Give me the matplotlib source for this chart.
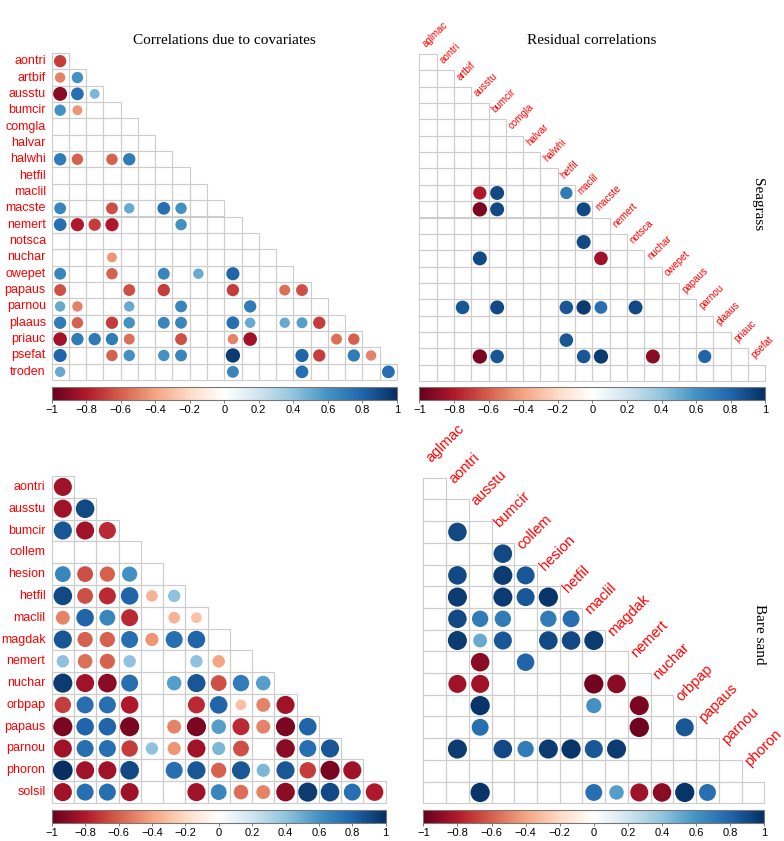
import numpy as np
import matplotlib
matplotlib.use("Agg")
import matplotlib.pyplot as plt
from matplotlib.colors import LinearSegmentedColormap, Normalize
from matplotlib.cm import ScalarMappable
from matplotlib.patches import Rectangle

# ---------------- data ----------------
sg_species = ["aglmac", "aontri", "artbif", "ausstu", "bumcir", "comgla", "halvar",
              "halwhi", "hetfil", "maclil", "macste", "nemert", "notsca", "nuchar",
              "owepet", "papaus", "parnou", "plaaus", "priauc", "psefat", "troden"]
bs_species = ["aglmac", "aontri", "ausstu", "bumcir", "collem", "hesion", "hetfil",
              "maclil", "magdak", "nemert", "nuchar", "orbpap", "papaus", "parnou",
              "phoron", "solsil"]

# lower triangles (row i+1 vs columns 0..i); 0 = not shown
sg_cov = [
    [-0.7],
    [-0.5, 0.6],
    [-0.9, 0.75, 0.45],
    [0.6, -0.45, 0, 0],
    [0, 0, 0, 0, 0],
    [0, 0, 0, 0, 0, 0],
    [0.7, -0.6, 0, -0.6, 0.7, 0, 0],
    [0, 0, 0, 0, 0, 0, 0, 0],
    [0, 0, 0, 0, 0, 0, 0, 0, 0],
    [0.65, 0, 0, -0.65, 0.5, 0, 0.75, 0.6, 0, 0],
    [0.75, -0.8, -0.7, -0.8, 0, 0, 0, 0.6, 0, 0, 0],
    [0, 0, 0, 0, 0, 0, 0, 0, 0, 0, 0, 0],
    [0, 0, 0, -0.45, 0, 0, 0, 0, 0, 0, 0, 0, 0],
    [0.65, 0, 0, -0.6, 0, 0, 0.65, 0, 0.5, 0, 0.8, 0, 0, 0],
    [-0.65, 0, 0, 0, -0.65, 0, -0.7, 0, 0, 0, -0.7, 0, 0, -0.55, -0.65],
    [0.5, -0.5, 0, 0, 0.5, 0, 0, 0.65, 0, 0, 0, 0.7, 0, 0, 0, 0],
    [0.7, -0.6, 0, -0.7, 0.6, 0, 0.65, 0.65, 0, 0, 0.75, 0.5, 0, 0.5, 0.55, -0.7, 0],
    [-0.85, 0.7, 0.7, 0.7, -0.55, 0, 0, -0.65, 0, 0, -0.5, -0.85, 0, 0, 0, 0, -0.55, -0.6],
    [0.8, 0, 0, -0.6, 0.6, 0, 0.6, 0.65, 0, 0, 0.95, 0, 0, 0, 0.8, -0.7, 0, 0.7, -0.5],
    [0.5, 0, 0, 0, 0, 0, 0, 0, 0, 0, 0.65, 0, 0, 0, 0.75, 0, 0, 0, 0, 0.75],
]

sg_res = [
    [0],
    [0, 0],
    [0, 0, 0],
    [0, 0, 0, 0],
    [0, 0, 0, 0, 0],
    [0, 0, 0, 0, 0, 0],
    [0, 0, 0, 0, 0, 0, 0],
    [0, 0, 0, 0, 0, 0, 0, 0],
    [0, 0, 0, -0.8, 0.9, 0, 0, 0, 0.7],
    [0, 0, 0, -0.95, 0.9, 0, 0, 0, 0, 0.9],
    [0, 0, 0, 0, 0, 0, 0, 0, 0, 0, 0],
    [0, 0, 0, 0, 0, 0, 0, 0, 0, 0.9, 0, 0],
    [0, 0, 0, 0.9, 0, 0, 0, 0, 0, 0, -0.85, 0, 0],
    [0, 0, 0, 0, 0, 0, 0, 0, 0, 0, 0, 0, 0, 0],
    [0, 0, 0, 0, 0, 0, 0, 0, 0, 0, 0, 0, 0, 0, 0],
    [0, 0, 0.85, 0, 0.9, 0, 0, 0, 0.85, 0.95, 0.75, 0, 0.9, 0, 0, 0],
    [0, 0, 0, 0, 0, 0, 0, 0, 0, 0, 0, 0, 0, 0, 0, 0, 0],
    [0, 0, 0, 0, 0, 0, 0, 0, 0.85, 0, 0, 0, 0, 0, 0, 0, 0, 0],
    [0, 0, 0, -0.95, 0.85, 0, 0, 0, 0, 0.85, 0.95, 0, 0, -0.9, 0, 0, 0.8, 0, 0],
    [0, 0, 0, 0, 0, 0, 0, 0, 0, 0, 0, 0, 0, 0, 0, 0, 0, 0, 0, 0],
]

bs_cov = [
    [-0.85],
    [-0.85, 0.9],
    [0.85, -0.85, -0.75],
    [0, 0, 0, 0],
    [0.65, -0.65, -0.6, 0.6, 0],
    [0.9, -0.65, -0.75, 0.8, -0.35, 0.4],
    [-0.5, 0.8, 0.65, -0.75, 0, -0.35, -0.3],
    [0.85, -0.6, -0.6, 0.75, -0.45, 0.75, 0.8, 0],
    [0.4, -0.55, -0.6, 0.4, 0, 0, 0.4, -0.4, 0],
    [0.95, -0.85, -0.9, 0.75, 0, 0.55, 0.85, -0.65, 0.7, 0.55],
    [-0.7, 0.75, 0.75, -0.8, 0, 0, -0.75, 0.8, -0.3, -0.5, -0.85],
    [-0.95, 0.8, 0.8, -0.95, 0, -0.5, -0.95, 0.55, -0.75, -0.5, -0.95, 0.8],
    [-0.85, 0.75, 0.75, -0.7, 0.4, -0.45, -0.85, 0.45, -0.65, 0, -0.9, 0.75, 0.85],
    [1.0, -0.85, -0.85, 0.9, 0, 0.75, 0.85, -0.6, 0.85, 0.45, 0.85, -0.7, -0.95, -0.85],
    [-0.85, 0.75, 0.75, -0.85, 0, 0, -0.85, 0.65, -0.55, -0.5, -0.9, 0.95, 0.9, 0.75, -0.8],
]

bs_res = [
    [0],
    [0, 0],
    [0, 0.9, 0],
    [0, 0, 0, 0.9],
    [0, 0.9, 0, 0.95, 0.85],
    [0, 0.95, 0, 0.95, 0.85, 0.97],
    [0, 0.9, 0.7, 0.7, 0, 0.7, 0.75],
    [0, 0.95, 0.5, 0.85, 0, 0.9, 0.9, 0.95],
    [0, 0, -0.9, 0, 0.8, 0, 0, 0, 0],
    [0, -0.85, -0.85, 0, 0, 0, 0, -0.97, -0.9, 0],
    [0, 0, 0.97, 0, 0, 0, 0, 0.6, 0, -0.95, 0],
    [0, 0, 0.75, 0, 0, 0, 0, 0, 0, -0.98, 0, 0.85],
    [0, 0.95, 0, 0.9, 0.7, 0.95, 0.97, 0.85, 0.95, 0, 0, 0, 0],
    [0, 0, 0, 0, 0, 0, 0, 0, 0, 0, 0, 0, 0, 0],
    [0, 0, 0.97, 0, 0, 0, 0, 0.75, 0.55, -0.85, -0.9, 0.97, 0.75, 0, 0],
]

cb_ticks = [-1, -0.8, -0.6, -0.4, -0.2, 0, 0.2, 0.4, 0.6, 0.8, 1]

# ---------------- style ----------------
W, H = 784, 841
fig = plt.figure(figsize=(W / 100, H / 100), dpi=100)
cmap = LinearSegmentedColormap.from_list(
    "corrRdBu", ["#67001F", "#B2182B", "#D6604D", "#F4A582", "#FDDBC7", "#FFFFFF",
                 "#D1E5F0", "#92C5DE", "#4393C3", "#2166AC", "#053061"], N=200)
norm = Normalize(-1, 1)
SANS = "Liberation Sans"
SERIF = "Liberation Serif"
GRID = "#cccccc"


def px_axes(x0, y0, x1, y1):
    return fig.add_axes([x0 / W, 1 - y1 / H, (x1 - x0) / W, (y1 - y0) / H])


def panel(box, mat, row_labels=None, col_labels=None, lab_size=9,
          col_off=(0.48, -0.29), row_off=-0.33):
    x0, y0, x1, y1 = box
    n = len(mat)
    ax = px_axes(x0, y0, x1, y1)
    ax.set_xlim(0, n)
    ax.set_ylim(n, 0)
    ax.axis("off")
    cw = (x1 - x0) / n
    ch = (y1 - y0) / n
    for r in range(n):
        for c in range(r + 1):
            ax.add_patch(Rectangle((c, r), 1, 1, fill=False, ec=GRID, lw=0.8,
                                   clip_on=False))
    xs, ys, vs = [], [], []
    for r, row in enumerate(mat):
        for c, v in enumerate(row):
            if v != 0:
                xs.append(c + 0.5)
                ys.append(r + 0.5)
                vs.append(v)
    vs = np.array(vs)
    diam_px = 0.9 * np.sqrt(np.abs(vs)) * min(cw, ch)
    sizes = (diam_px * 72 / 100) ** 2
    ax.scatter(xs, ys, s=sizes, c=vs, cmap=cmap, norm=norm, linewidths=0,
               clip_on=False, zorder=3)
    if row_labels is not None:
        for r, name in enumerate(row_labels):
            ax.text(row_off, r + 0.5, name, ha="right", va="center", color="red",
                    fontsize=lab_size, family=SANS)
    if col_labels is not None:
        for c, name in enumerate(col_labels):
            ax.text(c + col_off[0], c + col_off[1], name, ha="left", va="bottom",
                    rotation=45, rotation_mode="anchor", color="red",
                    fontsize=lab_size, family=SANS)
    return ax


def colorbar(box):
    x0, y0, x1, y1 = box
    cax = px_axes(x0, y0, x1, y1)
    cb = fig.colorbar(ScalarMappable(norm=norm, cmap=cmap), cax=cax,
                      orientation="horizontal", ticks=cb_ticks)
    cb.set_ticklabels([("\u2212" if t < 0 else "") + f"{abs(t):g}" for t in cb_ticks])
    cb.outline.set_edgecolor("#777777")
    cb.outline.set_linewidth(0.8)
    cax.tick_params(length=2.5, width=0.6, color="#666666", pad=1.5, labelsize=8)
    for lab in cax.get_xticklabels():
        lab.set_family(SANS)


# top-left: correlations due to covariates (seagrass)
panel((51.5, 53, 397, 380), sg_cov, row_labels=sg_species[1:], lab_size=9)
colorbar((51.5, 387, 397, 399.5))
# top-right: residual correlations (seagrass)
panel((419.3, 54, 765.3, 381), sg_res, col_labels=sg_species[:-1], lab_size=7,
      col_off=(0.48, -0.29))
colorbar((419.3, 387, 765.3, 399.5))
# bottom-left (bare sand)
panel((51.7, 476, 385.7, 803), bs_cov, row_labels=bs_species[1:], lab_size=9,
      row_off=-0.28)
colorbar((51.7, 809.5, 385.7, 822.5))
# bottom-right (bare sand)
panel((423.3, 477.7, 764.3, 803.3), bs_res, col_labels=bs_species[:-1], lab_size=10.5,
      col_off=(0.44, -0.59))
colorbar((423.3, 809.5, 764.3, 822.5))

fig.text(224 / W, 1 - 40 / H, "Correlations due to covariates", ha="center",
         va="center", fontsize=11, family=SERIF)
fig.text(592 / W, 1 - 40 / H, "Residual correlations", ha="center",
         va="center", fontsize=11, family=SERIF)
fig.text(758 / W, 1 - 205 / H, "Seagrass", ha="center", va="center",
         rotation=-90, fontsize=11, family=SERIF)
fig.text(759 / W, 1 - 634 / H, "Bare sand", ha="center", va="center",
         rotation=-90, fontsize=11, family=SERIF)

fig.savefig("out.png", dpi=100)
